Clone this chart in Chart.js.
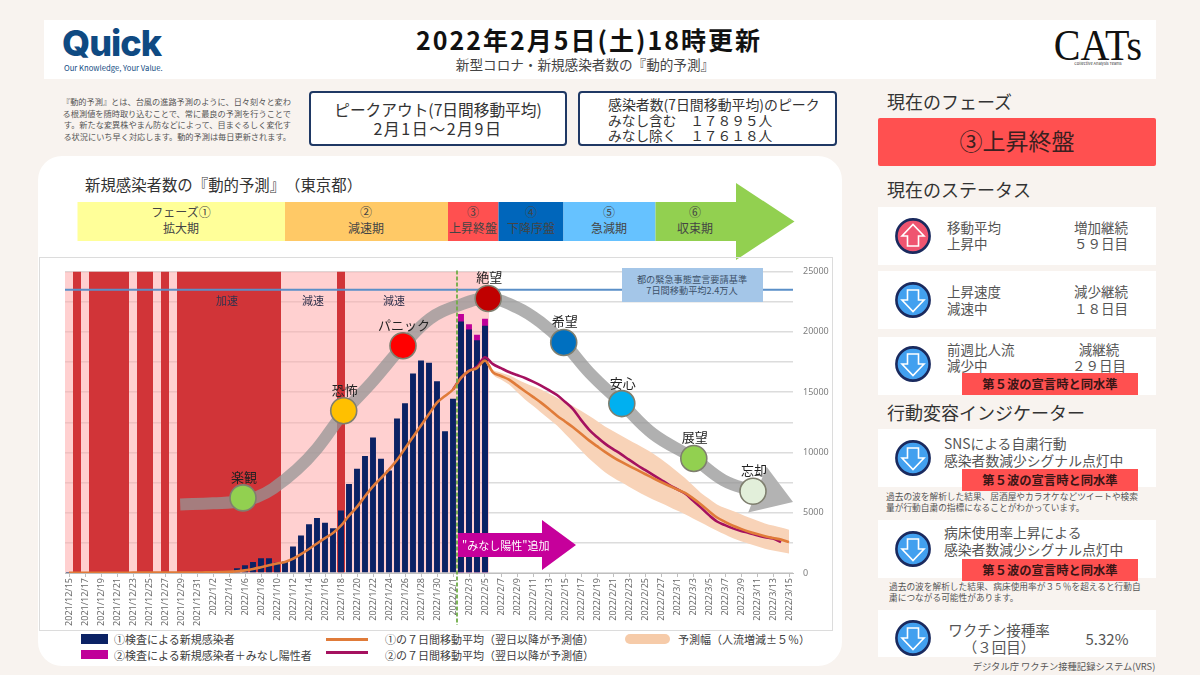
<!DOCTYPE html>
<html lang="ja">
<head>
<meta charset="utf-8">
<title>新型コロナ・新規感染者数の『動的予測』</title>
<script src="https://cdn.jsdelivr.net/npm/chart.js@4/dist/chart.umd.min.js"></script>
<style>
  html, body { margin: 0; padding: 0; }
  body { position: relative; width: 1200px; height: 675px; overflow: hidden; background: #f8f3ef; color: #404040;
         font-family: "Noto Sans CJK JP", "Noto Sans", sans-serif; }
  .box, .c, .l, canvas, svg { position: absolute; }
  .c { transform: translate(-50%, -50%); white-space: nowrap; text-align: center; }
  .l { transform: translateY(-50%); white-space: nowrap; }
  .card { background: #fff; left: 878px; width: 278px; }
  .badge { background: #ff5050; left: 962px; width: 176px; height: 22px; line-height: 22px; text-align: center;
           font-size: 12.3px; font-weight: 700; color: #3a1616; }
  .h2 { left: 887px; font-size: 18px; color: #333; }
  .st { font-size: 13.5px; color: #555; }
  .note { font-size: 8.7px; line-height: 10.5px; color: #555; white-space: nowrap; }
  .ph { font-size: 12px; line-height: 16px; color: #444; }
  .lg { font-size: 11px; color: #404040; }
</style>
</head>
<body>
<svg width="0" height="0">
  <symbol id="down" viewBox="0 0 36 36"><circle cx="18" cy="18" r="16.6" fill="#42a0ef" stroke="#1a2a5e" stroke-width="2.6"/><polygon points="12.5,8 23.5,8 23.5,18 29,18 18,29.5 7,18 12.5,18" fill="none" stroke="#fff" stroke-width="1.6"/></symbol>
  <symbol id="up" viewBox="0 0 36 36"><circle cx="18" cy="18" r="16.6" fill="#ef5470" stroke="#1a2a5e" stroke-width="2.6"/><polygon points="12.5,28 23.5,28 23.5,18 29,18 18,6.5 7,18 12.5,18" fill="none" stroke="#fff" stroke-width="1.6"/></symbol>
</svg>

<!-- header -->
<div class="box" style="left:44px;top:20px;width:1112px;height:59px;background:#fff"></div>
<div class="l" style="left:62px;top:43px;font:800 36px Inter,sans-serif;letter-spacing:-1px;color:#0f4a82">Quick</div>
<div class="l" style="left:64px;top:67px;font-size:7.7px;color:#0f4a82">Our Knowledge, Your Value.</div>
<div class="c" style="left:589px;top:39px;font-size:25px;font-weight:700;letter-spacing:2px;color:#111">2022年2月5日(土)18時更新</div>
<div class="c" style="left:585px;top:64px;font-size:13.6px;color:#444">新型コロナ・新規感染者数の『動的予測』</div>
<div class="c" style="left:1098px;top:45px;font:40px 'Liberation Serif',serif;color:#111;transform:translate(-50%,-50%) scaleY(1.1)">CATs</div>
<div class="c" style="left:1098px;top:63px;font-size:4px;color:#333">Collective Analysis Teams</div>

<!-- intro and peak boxes -->
<div class="box" style="left:48px;top:96px;width:243px;font-size:8.2px;line-height:11.6px;color:#555;text-align:right;white-space:nowrap">『動的予測』とは、台風の進路予測のように、日々刻々と変わ<br>る根測値を随時取り込むことで、常に最良の予測を行うことで<br>す。新たな変異株やまん防などによって、目まぐるしく変化す<br>る状況にいち早く対応します。動的予測は毎日更新されます。</div>
<div class="box" style="left:309px;top:91px;width:254px;height:51px;background:#fff;border:2.5px solid #1f3864;border-radius:4px"></div>
<div class="c" style="left:438px;top:109px;font-size:15.7px;color:#333">ピークアウト(7日間移動平均)</div>
<div class="c" style="left:438px;top:128px;font-size:16px;letter-spacing:1.5px;color:#333">2月1日～2月9日</div>
<div class="box" style="left:578px;top:91px;width:255px;height:51px;background:#fff;border:2.5px solid #1f3864;border-radius:4px"></div>
<div class="l" style="left:608px;top:104px;font-size:13.9px;color:#333">感染者数(7日間移動平均)のピーク</div>
<div class="l" style="left:608px;top:120px;font-size:13.7px;color:#333">みなし含む　１７８９５人</div>
<div class="l" style="left:608px;top:135px;font-size:13.7px;color:#333">みなし除く　１７６１８人</div>

<!-- chart panel -->
<div class="box" style="left:38px;top:156px;width:804px;height:510px;background:#fff;border-radius:24px"></div>
<div class="l" style="left:85px;top:184px;font-size:15.4px;color:#333">新規感染者数の『動的予測』　（東京都）</div>

<!-- phase arrow -->
<svg style="left:70px;top:180px" width="740" height="84">
  <rect x="7.5" y="22" width="207.5" height="39" fill="#ffff99"/>
  <rect x="215" y="22" width="163" height="39" fill="#ffc966"/>
  <rect x="378" y="22" width="50.5" height="39" fill="#ff5050"/>
  <rect x="428.5" y="22" width="65" height="39" fill="#0066bb"/>
  <rect x="493.5" y="22" width="92" height="39" fill="#66c2ff"/>
  <polygon points="585.5,22 666,22 666,3 724.5,41.5 666,80 666,61 585.5,61" fill="#92d050"/>
</svg>
<div class="c ph" style="left:181px;top:220px">フェーズ①<br>拡大期</div>
<div class="c ph" style="left:366px;top:220px">②<br>減速期</div>
<div class="c ph" style="left:473px;top:220px">③<br>上昇終盤</div>
<div class="c ph" style="left:531px;top:220px">④<br>下降序盤</div>
<div class="c ph" style="left:609px;top:220px">⑤<br>急減期</div>
<div class="c ph" style="left:695px;top:220px">⑥<br>収束期</div>

<!-- chart -->
<div class="box" style="left:39px;top:257px;width:792px;height:372px;border:1px solid #dcdcdc"></div>
<canvas id="chart" width="793" height="373" style="left:39px;top:257px"></canvas>

<div class="c" style="left:227px;top:300px;font-size:11px;color:#33334d">加速</div>
<div class="c" style="left:313px;top:300px;font-size:11px;color:#33334d">減速</div>
<div class="c" style="left:394px;top:300px;font-size:11px;color:#33334d">減速</div>
<div class="box" style="left:622px;top:268px;width:141px;height:34px;background:#a4c6e8"></div>
<div class="c" style="left:692px;top:285px;font-size:9.2px;line-height:11px;color:#3c5168">都の緊急事態宣言要請基準<br>7日間移動平均2.4万人</div>
<svg style="left:458px;top:520px" width="119" height="50"><polygon points="0,13 84,13 84,0 118,25 84,50 84,37 0,37" fill="#c6009b"/></svg>
<div class="l" style="left:462px;top:545px;font-size:11px;color:#fff">"みなし陽性"追加</div>

<!-- legend -->
<div class="box" style="left:81px;top:634px;width:27px;height:10px;background:#0b2264"></div>
<div class="box" style="left:81px;top:650px;width:27px;height:9px;background:#c00099"></div>
<div class="l lg" style="left:114px;top:639px">①検査による新規感染者</div>
<div class="l lg" style="left:114px;top:655px">②検査による新規感染者＋みなし陽性者</div>
<div class="box" style="left:326px;top:638px;width:42px;height:3px;background:#e07b39"></div>
<div class="box" style="left:326px;top:651px;width:42px;height:3px;background:#a5115f"></div>
<div class="l lg" style="left:385px;top:639px">①の７日間移動平均（翌日以降が予測値）</div>
<div class="l lg" style="left:385px;top:655px">②の７日間移動平均（翌日以降が予測値）</div>
<div class="box" style="left:625px;top:634px;width:45px;height:10px;background:#f6cba9;border-radius:5px"></div>
<div class="l lg" style="left:678px;top:639px">予測幅（人流増減±５％）</div>

<!-- right column -->
<div class="l h2" style="top:101px">現在のフェーズ</div>
<div class="box" style="left:878px;top:118px;width:278px;height:48px;background:#ff5050;border-radius:2px"></div>
<div class="c" style="left:1017px;top:140px;font-size:23px;color:#3a2020">③上昇終盤</div>
<div class="l h2" style="top:189px">現在のステータス</div>

<div class="box card" style="top:207px;height:58px"></div>
<svg style="left:895px;top:218px" width="36" height="36"><use href="#up"/></svg>
<div class="l st" style="left:947px;top:227px">移動平均</div>
<div class="l st" style="left:947px;top:243px">上昇中</div>
<div class="c st" style="left:1101px;top:227px">増加継続</div>
<div class="c st" style="left:1101px;top:243px">５９日目</div>

<div class="box card" style="top:271px;height:58px"></div>
<svg style="left:895px;top:282px" width="36" height="36"><use href="#down"/></svg>
<div class="l st" style="left:947px;top:291px">上昇速度</div>
<div class="l st" style="left:947px;top:308px">減速中</div>
<div class="c st" style="left:1101px;top:291px">減少継続</div>
<div class="c st" style="left:1101px;top:308px">１８日目</div>

<div class="box card" style="top:337px;height:58px"></div>
<svg style="left:895px;top:346px" width="36" height="36"><use href="#down"/></svg>
<div class="l st" style="left:947px;top:349px">前週比人流</div>
<div class="l st" style="left:947px;top:365px">減少中</div>
<div class="c st" style="left:1099px;top:349px">減継続</div>
<div class="c st" style="left:1099px;top:365px">２９日目</div>
<div class="box badge" style="top:373px">第５波の宣言時と同水準</div>

<div class="l h2" style="top:412px">行動変容インジケーター</div>

<div class="box card" style="top:429px;height:58px"></div>
<svg style="left:895px;top:440px" width="36" height="36"><use href="#down"/></svg>
<div class="l" style="left:944px;top:443px;font-size:13.8px;color:#555">SNSによる自粛行動</div>
<div class="l" style="left:944px;top:460px;font-size:13.8px;color:#555">感染者数減少シグナル点灯中</div>
<div class="box badge" style="top:469px">第５波の宣言時と同水準</div>
<div class="box note" style="left:886px;top:492px">過去の波を解析した結果、居酒屋やカラオケなどツイートや検索<br>量が行動自粛の指標になることがわかっています。</div>

<div class="box card" style="top:520px;height:58px"></div>
<svg style="left:895px;top:531px" width="36" height="36"><use href="#down"/></svg>
<div class="l" style="left:944px;top:532px;font-size:13.8px;color:#555">病床使用率上昇による</div>
<div class="l" style="left:944px;top:549px;font-size:13.8px;color:#555">感染者数減少シグナル点灯中</div>
<div class="box badge" style="top:559px">第５波の宣言時と同水準</div>
<div class="box note" style="left:889px;top:582px">過去の波を解析した結果、病床使用率が３５％を超えると行動自<br>粛につながる可能性があります。</div>

<div class="box card" style="top:610px;height:47px"></div>
<svg style="left:895px;top:620px" width="36" height="36"><use href="#down"/></svg>
<div class="c" style="left:999px;top:629px;font-size:14.5px;color:#555">ワクチン接種率</div>
<div class="c" style="left:999px;top:646px;font-size:14.5px;color:#555">（３回目）</div>
<div class="c" style="left:1107px;top:638px;font-size:15px;color:#555">5.32%</div>
<div class="c" style="left:1064px;top:666px;font-size:9.3px;color:#555">デジタル庁 ワクチン接種記録システム(VRS)</div>

<script>
const categories = [
  "2021/12/15","2021/12/16","2021/12/17","2021/12/18","2021/12/19","2021/12/20","2021/12/21","2021/12/22","2021/12/23","2021/12/24","2021/12/25","2021/12/26","2021/12/27","2021/12/28","2021/12/29","2021/12/30","2021/12/31",
  "2022/1/1","2022/1/2","2022/1/3","2022/1/4","2022/1/5","2022/1/6","2022/1/7","2022/1/8","2022/1/9","2022/1/10","2022/1/11","2022/1/12","2022/1/13","2022/1/14","2022/1/15","2022/1/16","2022/1/17","2022/1/18","2022/1/19","2022/1/20","2022/1/21","2022/1/22","2022/1/23","2022/1/24","2022/1/25","2022/1/26","2022/1/27","2022/1/28","2022/1/29","2022/1/30","2022/1/31",
  "2022/2/1","2022/2/2","2022/2/3","2022/2/4","2022/2/5","2022/2/6","2022/2/7","2022/2/8","2022/2/9","2022/2/10","2022/2/11","2022/2/12","2022/2/13","2022/2/14","2022/2/15","2022/2/16","2022/2/17","2022/2/18","2022/2/19","2022/2/20","2022/2/21","2022/2/22","2022/2/23","2022/2/24","2022/2/25","2022/2/26","2022/2/27","2022/2/28",
  "2022/3/1","2022/3/2","2022/3/3","2022/3/4","2022/3/5","2022/3/6","2022/3/7","2022/3/8","2022/3/9","2022/3/10","2022/3/11","2022/3/12","2022/3/13","2022/3/14","2022/3/15"
];
// ①検査による新規感染者
const newCases = [21,17,36,25,30,20,17,37,24,29,35,38,32,40,42,50,60,80,85,105,150,390,640,920,1220,1220,870,960,2200,3120,4050,4560,4170,3720,5180,7380,8640,9700,11230,9470,8500,12810,14090,16540,17630,17430,15900,11750,14450,20860,20200,19300,20500];
// ②検査による新規感染者+みなし陽性者 (2/2から)
const casesWithDeemed = [21490,20640,19770,21080];
const deemedStart = 49;
// ①の7日間移動平均
const avgActual = [20,20,21,23,24,25,25,26,28,28,29,30,31,32,35,37,40,50,60,70,90,140,220,330,480,640,790,920,1180,1560,1990,2450,2890,3310,3920,4760,5480,6370,7190,7870,8580,9370,10330,11280,12230,13180,14130,14680,15220,16180,16770,17000,17618];
const avgForecast = [16640,16340,16040,15560,15080,14610,14130,13600,13050,12570,12090,11550,11000,10520,10050,9620,9230,8880,8550,8210,7870,7550,7240,6940,6640,6190,5690,5130,4600,4240,3920,3660,3430,3230,3050,2900,2780,2560];
// ②の7日間移動平均
const avgDeemed = [16180,16770,17100,17895,17320,16990,16670,16420,16180,15880,15550,15170,14760,14200,13590,12700,11900,11280,10730,10280,9860,9400,8960,8550,8140,7730,7320,6950,6590,6020,5420,4800,4270,3970,3700,3490,3320,3130,2970,2860,2560];
// 予測幅 (人流増減±5%)
const bandUpper = [17618,16850,16620,16400,16080,15770,15480,15220,14880,14540,14200,13860,13450,13050,12610,12150,11770,11410,11040,10680,10300,9910,9450,8960,8420,7870,7250,6640,6150,5690,5400,5150,4880,4600,4350,4110,3930,3780,3590];
const bandLower = [17618,16450,16060,15630,15020,14400,13870,13320,12780,12230,11550,10870,10180,9500,8920,8360,7930,7540,7150,6780,6430,6100,5800,5500,5180,4880,4530,4190,3840,3510,3190,2880,2640,2430,2220,2020,1870,1740,1610];
const forecastStart = 52;
// 赤=加速, 薄赤=減速 (12/15〜2/5)
const accelFlags = [0,1,0,1,1,1,1,1,0,1,1,0,1,0,1,1,1,1,1,1,1,1,1,1,1,1,1,0,0,0,0,0,0,0,1,0,0,0,0,0,0,0,0,0,0,0,0,0,0,0,0,0,0];
const alertLevel = 23500;
const yTop = 25000;
// 感情曲線 (日は小数のまま)
const moodDays = [13.9,18,21.75,23.5,25.5,28.5,31,34.3,38,41.75,45.1,48.5,52.4,56,58.9,61.8,65.1,69.1,73,78.1,81.8,85.5];
const moodValues = [5690,5780,5950,6300,7000,8580,10320,13250,15930,18850,21080,22160,22770,22030,20830,19120,16580,14050,11540,9500,7700,6780];
const arrowDays = [87.2,90.5,84.9];
const arrowValues = [8820,5880,5010];
const markerNames = ["楽観","恐怖","パニック","絶望","希望","安心","展望","忘却"];
const markerDays = [21.75,34.34,41.75,52.4,61.84,69.1,78.1,85.5];
const markerValues = [6230,13460,18850,22770,19120,14050,9500,6780];
const markerColors = ["#92d050","#ffc000","#ff0000","#c00000","#0070c0","#00b0f0","#92d050","#e2efda"];

const gap = (n) => Array(n).fill(null);
const toPoints = (xs, ys) => xs.map((x, i) => ({ x: x, y: ys[i] }));

//Arrow head, marker names and the dashed line, placed with the chart's own scales
const overlayPlugin = {
  id: "overlay",
  beforeDatasetsDraw(chart) {
    const { ctx, scales } = chart;
    ctx.save();
    ctx.fillStyle = "#b3b3b3";
    ctx.beginPath();
    arrowDays.forEach((d, i) => ctx.lineTo(scales.xf.getPixelForValue(d), scales.y.getPixelForValue(arrowValues[i])));
    ctx.closePath();
    ctx.fill();
    ctx.restore();
  },
  afterDatasetsDraw(chart) {
    const { ctx, scales, chartArea, height } = chart;
    const x = scales.x.getPixelForValue(48.5);
    ctx.save();
    ctx.strokeStyle = "#70ad47";
    ctx.lineWidth = 1.8;
    ctx.setLineDash([4, 2]);
    ctx.beginPath();
    ctx.moveTo(x, chartArea.top - 1);
    ctx.lineTo(x, height - 5);
    ctx.stroke();
    ctx.setLineDash([]);
    ctx.fillStyle = "#222";
    ctx.font = '13px "Noto Sans CJK JP"';
    ctx.textAlign = "center";
    ctx.textBaseline = "middle";
    markerNames.forEach((name, i) => {
      ctx.fillText(name, scales.xf.getPixelForValue(markerDays[i]) + 1, scales.y.getPixelForValue(markerValues[i]) - 21);
    });
    ctx.restore();
  },
};

new Chart(document.getElementById("chart"), {
  data: {
    labels: categories,
    datasets: [
      {
        type: "bar", label: "phase", order: 10, grouped: false, inflateAmount: 0,
        data: accelFlags.map(() => yTop),
        backgroundColor: accelFlags.map((f) => (f ? "#d13438" : "rgba(255,170,170,0.55)")),
        barPercentage: 1, categoryPercentage: 1,
      },
      {
        type: "bar", label: "②検査による新規感染者+みなし陽性者", order: 9, grouped: false,
        data: gap(deemedStart).concat(casesWithDeemed),
        backgroundColor: "#c00099", barPercentage: 0.74, categoryPercentage: 1,
      },
      {
        type: "bar", label: "①検査による新規感染者", order: 8, grouped: false,
        data: newCases,
        backgroundColor: "#0b2264", barPercentage: 0.74, categoryPercentage: 1,
      },
      {
        type: "line", label: "予測幅上限", order: 7,
        data: gap(forecastStart).concat(bandUpper),
        borderWidth: 0, pointRadius: 0, cubicInterpolationMode: "monotone",
        fill: "+1", backgroundColor: "#f8d3b8",
      },
      {
        type: "line", label: "予測幅下限", order: 7,
        data: gap(forecastStart).concat(bandLower),
        borderWidth: 0, pointRadius: 0, cubicInterpolationMode: "monotone",
      },
      {
        type: "line", label: "②の7日間移動平均", order: 6,
        data: gap(deemedStart - 1).concat([15220], avgDeemed),
        borderColor: "#a5115f", borderWidth: 2.6, pointRadius: 0, cubicInterpolationMode: "monotone",
      },
      {
        type: "line", label: "①の7日間移動平均", order: 5,
        data: avgActual.concat(avgForecast),
        borderColor: "#e07b39", borderWidth: 2.6, pointRadius: 0, cubicInterpolationMode: "monotone",
      },
      {
        type: "line", label: "基準", order: 4, xAxisID: "xf",
        data: toPoints([-0.5, 90.5], [alertLevel, alertLevel]),
        borderColor: "#5a8fc8", borderWidth: 2, pointRadius: 0,
      },
      {
        type: "line", label: "感情曲線", order: 3, xAxisID: "xf",
        data: toPoints(moodDays, moodValues),
        borderColor: "rgba(150,150,150,0.75)", borderWidth: 12, pointRadius: 0, tension: 0.4,
        borderCapStyle: "butt",
      },
      {
        type: "line", label: "感情", order: 2, xAxisID: "xf", showLine: false,
        data: toPoints(markerDays, markerValues),
        pointRadius: 13, pointBackgroundColor: markerColors,
        pointBorderColor: "#7f7f6f", pointBorderWidth: 1.6,
      },
    ],
  },
  plugins: [overlayPlugin],
  options: {
    responsive: false,
    animation: false,
    layout: { padding: { left: 26, top: 10, right: 0, bottom: 0 } },
    plugins: { legend: { display: false }, tooltip: { enabled: false } },
    scales: {
      x: {
        afterFit: (axis) => { axis.height = 57; },
        border: { color: "#bfbfbf" },
        grid: {
          drawOnChartArea: false, offset: false, tickLength: 4,
          tickColor: (c) => (c.index % 2 ? "transparent" : "#bfbfbf"),
        },
        ticks: {
          autoSkip: false, minRotation: 90, maxRotation: 90, padding: 1,
          color: "#6b6b6b", font: { family: '"Noto Sans"', size: 9 },
          callback(value, index) { return index % 2 ? "" : this.getLabelForValue(value); },
        },
      },
      xf: { type: "linear", display: false, min: -0.5, max: 90.5 },
      y: {
        position: "right", min: 0, max: yTop,
        afterFit: (axis) => { axis.width = 39; axis.paddingTop = 0; axis.paddingBottom = 0; },
        border: { display: false },
        grid: { color: "#dcdcdc", lineWidth: 1.4, drawTicks: false },
        ticks: {
          stepSize: 2500, padding: 10, color: "#7f7f7f", font: { family: '"Noto Sans"', size: 9 },
          callback: (v) => (v % 5000 === 0 ? v : ""),
        },
      },
    },
  },
});
</script>
</body>
</html>
